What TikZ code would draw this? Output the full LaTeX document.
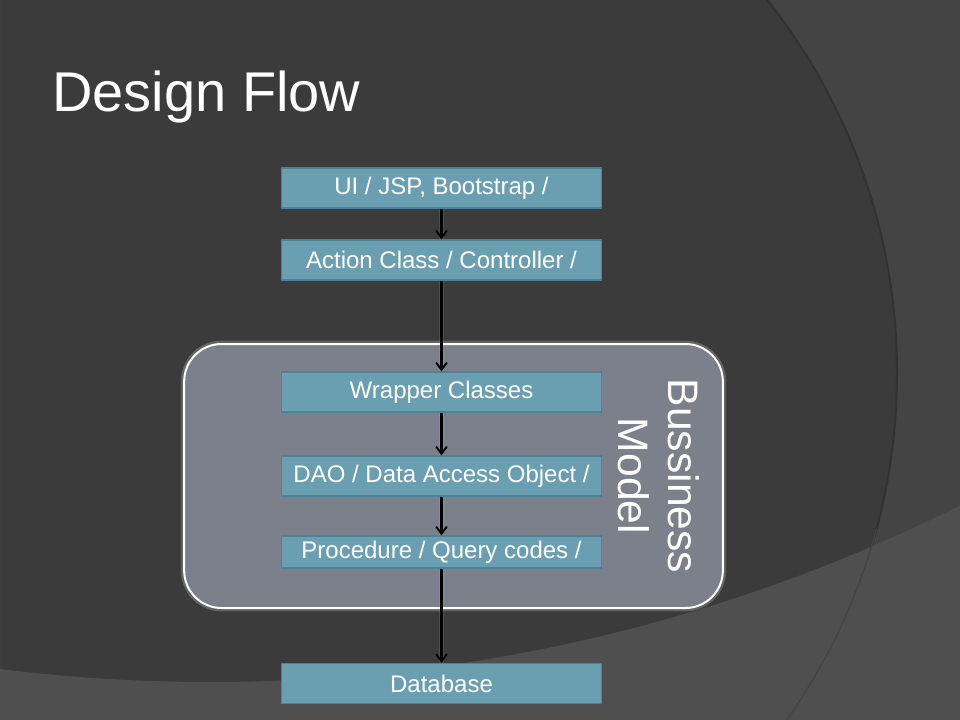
\documentclass[tikz,border=0pt]{standalone}
\usepackage{fontspec}
\setmainfont{Liberation Sans}
\usetikzlibrary{arrows.meta}

\definecolor{slidebg}{HTML}{3B3B3B}
\definecolor{slidelight}{HTML}{444444}
\definecolor{slideband}{HTML}{4F4F4F}
\definecolor{arcshade}{HTML}{323232}
\definecolor{arcfaint}{HTML}{444444}
\definecolor{boxfill}{HTML}{6A9FB1}
\definecolor{boxline}{HTML}{4D8394}
\definecolor{modelfill}{HTML}{7B808A}

\begin{document}
\begin{tikzpicture}[
    x=0.75pt,
    y=-0.75pt,
    layer/.style={
      draw=boxline,
      fill=boxfill,
      line width=0.8pt,
      minimum width=240pt,
      minimum height=30pt,
      inner sep=0pt,
      text=white,
      font=\fontsize{18}{22}\selectfont
    },
    flow/.style={
      -{Straight Barb[length=5.5pt, width=8pt, line width=1.4pt]},
      line width=1.6pt,
      preaction={draw=white, opacity=0.1, line width=3.6pt, arrows=-}
    }
  ]
    \useasboundingbox (0, 0) rectangle (960, 720);

    % slide background
    \fill[slidelight] (0, 0) rectangle (960, 720);
    \fill[slidebg] (296, 373) circle (601);
    \draw[arcshade, line width=1.5pt] (296, 373) circle (601);
    \fill[slideband, even odd rule] (0, 0) rectangle (960, 720) (210, -996) circle (1678);
    \draw[arcfaint, line width=1pt] (296, 373) ++(15:601) arc[start angle=15, end angle=40, radius=601];

    \node[anchor=base west, inner sep=0pt, text=white, font=\fontsize{42}{50}\selectfont] (title) at (52, 112) {Design Flow};

    \node[
      draw=white,
      fill=modelfill,
      line width=1.5pt,
      rounded corners=28pt,
      minimum width=404pt,
      minimum height=198pt,
      preaction={draw=white, opacity=0.2, line width=5pt}
    ] (model) at (453.5, 476) {};
    \node[rotate=-90, align=center, text=white, inner sep=0pt, font=\fontsize{32}{37.5}\selectfont] (modellbl) at (659, 476) {Bussiness\\Model};

    \node[layer] (ui) at (441.5, 188) {UI / JSP, Bootstrap /};
    \node[layer] (action) at (441.5, 260) {Action Class / Controller /};
    \node[layer] (wrapper) at (441.5, 392) {Wrapper Classes};
    \node[layer] (dao) at (441.5, 476) {DAO / Data Access Object /};
    \node[layer, minimum height=24pt] (proc) at (441.5, 552) {Procedure / Query codes /};
    \node[layer] (db) at (441.5, 683.5) {Database};

    \draw[flow] (ui) to (action);
    \draw[flow] (action) to (wrapper);
    \draw[flow] (wrapper) to (dao);
    \draw[flow] (dao) to (proc);
    \draw[flow] (proc) to (db);

  \end{tikzpicture}
\end{document}
